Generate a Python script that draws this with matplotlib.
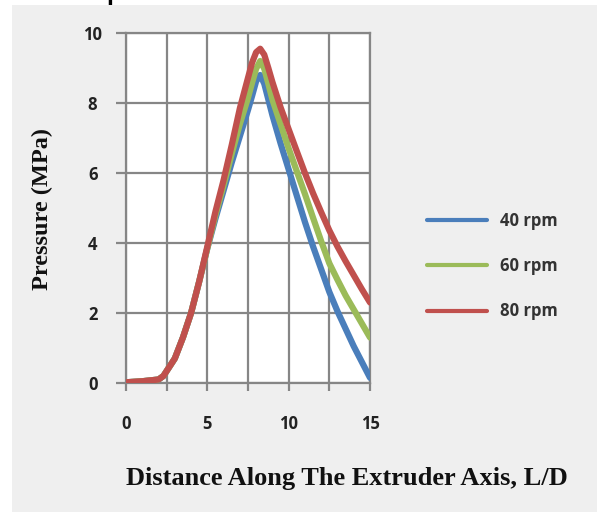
import matplotlib
matplotlib.use("Agg")
import matplotlib.pyplot as plt
from matplotlib.patches import Rectangle

# distance along the extruder axis (L/D)
distance = [0, 1, 2, 2.3, 3, 3.5, 4, 4.5, 5, 5.5, 6, 6.5, 7, 7.5, 7.75, 8, 8.25,
            8.5, 8.75, 9, 9.5, 10, 10.5, 11, 11.5, 12, 12.5, 13, 13.5, 14, 14.5, 15]

# pressure (MPa) for each screw speed
p_40 = [0.02, 0.05, 0.1, 0.2, 0.7, 1.3, 2.0, 2.9, 3.85, 4.7, 5.5, 6.3, 7.05, 7.8, 8.2, 8.62, 8.8,
        8.55, 8.1, 7.65, 6.85, 6.1, 5.35, 4.6, 3.9, 3.25, 2.6, 2.05, 1.55, 1.05, 0.6, 0.15]
p_60 = [0.02, 0.05, 0.1, 0.2, 0.7, 1.3, 2.0, 2.9, 3.85, 4.8, 5.65, 6.55, 7.4, 8.15, 8.58, 8.98, 9.2,
        8.98, 8.55, 8.1, 7.4, 6.7, 6.05, 5.4, 4.72, 4.05, 3.42, 2.95, 2.5, 2.1, 1.7, 1.3]
p_80 = [0.02, 0.05, 0.1, 0.2, 0.7, 1.3, 2.0, 2.9, 3.9, 4.9, 5.8, 6.8, 7.85, 8.72, 9.15, 9.45, 9.55,
        9.38, 9.0, 8.6, 7.88, 7.25, 6.62, 6.0, 5.42, 4.88, 4.36, 3.9, 3.48, 3.08, 2.68, 2.3]

series_labels = ['40 rpm', '60 rpm', '80 rpm']
series_colors = ['#4a7ebb', '#9bbb59', '#c0504d']

x_ticks = [0, 2.5, 5, 7.5, 10, 12.5, 15]
x_ticklabels = ['0', '', '5', '', '10', '', '15']
y_ticks = [0, 2, 4, 6, 8, 10]

W, H = 597, 512
fig = plt.figure(figsize=(W / 100, H / 100), dpi=100, facecolor='white')

# light gray panel behind the chart
fig.patches.append(Rectangle((12 / W, 0), 1 - 12 / W, 1 - 5 / H, transform=fig.transFigure,
                             facecolor='#efefef', edgecolor='none', zorder=0))

# cropped heading at the very top
fig.text(106 / W, 1.0, 'pressure', family='Liberation Sans', weight='bold', fontsize=18,
         va='baseline', ha='left', color='black')

ax = fig.add_axes([126 / W, 1 - 383 / H, 244 / W, 350 / H])
ax.set_zorder(2)
ax.set_facecolor('white')

grid_col = '#868686'
for xv in x_ticks:
    ax.axvline(xv, color=grid_col, lw=1.6, zorder=1)
for yv in y_ticks:
    ax.axhline(yv, color=grid_col, lw=1.6, zorder=1)

for vals, lab, col in zip([p_40, p_60, p_80], series_labels, series_colors):
    ax.plot(distance, vals, color=col, lw=4.5, label=lab, solid_joinstyle='round',
            solid_capstyle='round', zorder=3)

ax.set_xlim(0, 15)
ax.set_ylim(0, 10)
for s in ax.spines.values():
    s.set_color(grid_col)
    s.set_linewidth(1.6)

tick_font = dict(family='Open Sans', weight='bold', size=12)
ax.set_xticks(x_ticks)
ax.set_xticklabels(x_ticklabels, **tick_font)
ax.set_yticks(y_ticks)
ax.set_yticklabels([str(v) for v in y_ticks], **tick_font)
for t in ax.get_yticklabels():
    t.set_horizontalalignment('center')
ax.tick_params(axis='x', length=6, width=1.6, color=grid_col, pad=17, labelcolor='#222222')
ax.tick_params(axis='y', length=7, width=1.6, color=grid_col, pad=17, labelcolor='#222222')

fig.text(42 / W, 1 - 209 / H, 'Pressure (MPa)', family='Liberation Serif', weight='bold',
         fontsize=17.5, rotation=90, ha='center', va='center', color='#111111')
fig.text(347 / W, 1 - 478 / H, 'Distance Along The Extruder Axis, L/D', family='Liberation Serif',
         weight='bold', fontsize=19, ha='center', va='center', color='#111111')

leg = ax.legend(loc='center left', bbox_to_anchor=(427 / W, 1 - 266 / H),
                bbox_transform=fig.transFigure, frameon=False, borderpad=0, borderaxespad=0,
                handlelength=3.6, handletextpad=0.8, labelspacing=1.65,
                prop=dict(family='Open Sans', weight='bold', size=12))
for line in leg.get_lines():
    line.set_linewidth(3)
for t in leg.get_texts():
    t.set_color('#333333')

fig.savefig('out.png', dpi=100, facecolor=fig.get_facecolor())
